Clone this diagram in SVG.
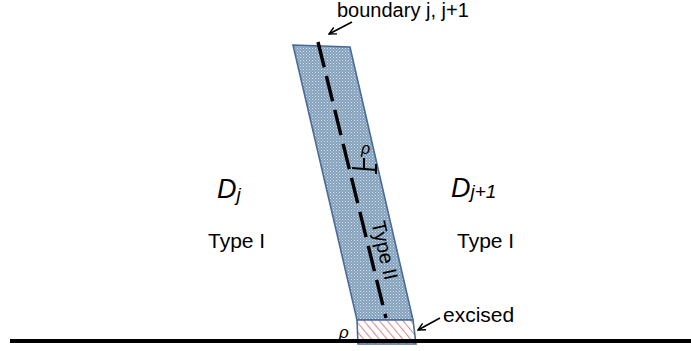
<svg xmlns="http://www.w3.org/2000/svg" width="691" height="351" viewBox="0 0 691 351">
<defs>
<pattern id="dots" width="3" height="3" patternUnits="userSpaceOnUse">
<rect width="3" height="3" fill="#86a2bc"/>
<rect x="0" y="0" width="1" height="1" fill="#d4e0eb"/>
<rect x="1.5" y="1.5" width="1" height="1" fill="#bccddd"/>
</pattern>
<pattern id="hatch" width="6" height="6" patternUnits="userSpaceOnUse" patternTransform="rotate(-40)">
<rect width="6" height="6" fill="#ffffff"/>
<line x1="0" y1="0" x2="0" y2="6" stroke="#d98f8f" stroke-width="2.2"/>
</pattern>
<marker id="open" viewBox="0 0 10 10" refX="9" refY="5" markerWidth="9" markerHeight="9" orient="auto" markerUnits="userSpaceOnUse">
<path d="M1,1 L9,5 L1,9" fill="none" stroke="#000" stroke-width="1.6"/>
</marker>
</defs>
<style>
.lbl{font-family:"Liberation Sans",Arial,sans-serif;fill:#000}
.it{font-family:"Liberation Sans",Arial,sans-serif;font-style:italic;fill:#000}
.edge{stroke:#4a6a98;stroke-width:1.6}
</style>
<rect width="691" height="351" fill="#fff"/>
<g id="band">
<polygon points="293,45 350,47 413,320 357,320" fill="url(#dots)" class="edge"/>
</g>
<g id="excised-region">
<polygon points="357,320 413,320 416,344 358,344" fill="url(#hatch)" class="edge"/>
</g>
<g id="baseline">
<line x1="10" y1="341" x2="691" y2="341" stroke="#000" stroke-width="4"/>
</g>
<g id="connectors">
<line x1="318" y1="42" x2="386" y2="318" stroke="#000" stroke-width="3.4" stroke-dasharray="26,9"/>
<line x1="352" y1="168" x2="377" y2="170" stroke="#000" stroke-width="2"/>
<line x1="364" y1="158" x2="364" y2="168" stroke="#000" stroke-width="2"/>
<line x1="376" y1="164" x2="376" y2="174" stroke="#000" stroke-width="2"/>
<line x1="352" y1="22" x2="329" y2="34" stroke="#000" stroke-width="1.6" marker-end="url(#open)"/>
<line x1="440" y1="318" x2="418" y2="330" stroke="#000" stroke-width="1.6" marker-end="url(#open)"/>
</g>
<g id="labels">
<text class="lbl" x="337" y="17" font-size="20">boundary j, j+1</text>
<text class="it" x="217" y="198" font-size="27">D<tspan font-size="19" dy="3">j</tspan></text>
<text class="it" x="451" y="197" font-size="27">D<tspan font-size="19" dy="1">j+1</tspan></text>
<text class="lbl" x="208" y="248" font-size="21">Type I</text>
<text class="lbl" x="457" y="248" font-size="21">Type I</text>
<text class="lbl" x="443" y="322" font-size="21">excised</text>
<text class="it" x="361" y="154" font-size="16">ρ</text>
<text class="it" x="339" y="338" font-size="17">ρ</text>
<text class="lbl" font-size="20" text-anchor="middle" transform="translate(378,252) rotate(76.8)">Type II</text>
</g>
</svg>
